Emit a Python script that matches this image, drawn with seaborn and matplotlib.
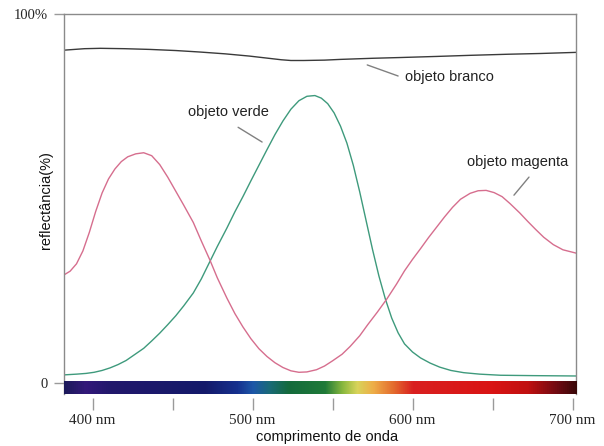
"""Reflectance spectra of white, green and magenta objects."""

import numpy as np
import pandas as pd
import matplotlib
matplotlib.use('Agg')
import matplotlib.pyplot as plt
from matplotlib.colors import LinearSegmentedColormap
import seaborn as sns

# values (wavelength in nm, reflectance in %)
branco_nm = [382.2, 395, 405, 420, 436, 452, 467, 483, 498, 510, 518, 524, 532, 545, 555,
             575, 592, 615, 636, 660, 680, 702.2]
branco_pct = [90.2, 90.6, 90.7, 90.6, 90.4, 90.1, 89.7, 89.2, 88.6, 88.0, 87.6, 87.4, 87.4,
              87.5, 87.7, 88.0, 88.2, 88.5, 88.8, 89.1, 89.3, 89.6]

verde_nm = [382.2, 390, 396, 401, 406, 411, 416, 421, 426, 432, 437, 442, 447, 452, 457, 463,
            468, 473, 478, 484, 489, 494, 499, 504, 509, 514, 519, 524, 529, 534, 539, 543,
            547, 551, 555, 559, 563, 567, 571, 575, 579, 583, 587, 591, 595, 600, 605, 611,
            617, 624, 632, 642, 655, 675, 702.2]
verde_pct = [2.2, 2.4, 2.6, 2.9, 3.4, 4.1, 5.0, 6.1, 7.6, 9.4, 11.4, 13.5, 15.8, 18.2, 20.9,
             24.4, 28.2, 32.6, 37.0, 42.0, 46.4, 50.5, 54.8, 59.0, 63.2, 67.3, 71.0, 74.2,
             76.5, 77.7, 77.9, 77.2, 75.7, 73.2, 69.6, 65.0, 59.0, 51.8, 44.0, 36.2, 29.0,
             22.8, 17.6, 13.6, 10.6, 8.4, 6.8, 5.4, 4.3, 3.4, 2.8, 2.4, 2.1, 2.0, 1.9]

magenta_nm = [382.2, 386, 390, 394, 398, 402, 406, 410, 414, 418, 422, 427, 432, 437, 442, 447,
              452, 457, 463, 468, 473.4, 478, 484, 489, 494, 499, 504, 509, 514, 519, 524, 529,
              534, 540, 545, 550, 556, 561, 567, 572, 578, 584, 590, 595, 600, 605, 610, 615,
              620, 625, 630, 636, 641, 646, 651, 656, 661, 667, 672, 677, 682, 688, 694, 702.2]
magenta_pct = [29.3, 30.3, 32.3, 35.8, 40.8, 46.5, 51.5, 55.3, 58.0, 60.0, 61.3, 62.1, 62.4,
               61.6, 59.2, 55.8, 52.0, 48.2, 43.5, 38.5, 33.3, 28.5, 23.0, 18.8, 15.2, 12.0,
               9.3, 7.2, 5.5, 4.2, 3.3, 2.9, 3.0, 3.6, 4.6, 6.0, 7.8, 9.9, 12.8, 15.8, 19.2,
               22.8, 26.8, 30.4, 33.5, 36.4, 39.4, 42.2, 45.0, 47.6, 49.8, 51.4, 52.1, 52.2,
               51.6, 50.5, 48.6, 46.1, 43.8, 41.6, 39.5, 37.5, 36.1, 35.2]

# visible spectrum strip under the plot
spectrum_nm = [382, 395, 410, 470, 490, 500, 510, 522, 545, 556, 565, 575, 588, 600, 650, 672, 690, 702]
spectrum_col = ['#1c1a5a', '#33197a', '#22186c', '#141a6a', '#16308e', '#1d57a8', '#1a6a78',
                '#146a3c', '#1f7a38', '#8ab83e', '#d8d45a', '#eeae48', '#e36a2e', '#d92020',
                '#d91414', '#c01010', '#700a12', '#3a0808']

xticks_major = [400, 500, 600, 700]
xticks_minor = [450, 550, 650]
xlabels = ['400 nm', '500 nm', '600 nm', '700 nm']
ylabels = ['0', '100%']

labels = [
    # text, text position, leader start, leader end
    ('objeto branco', (595.5, 83.0), (571.7, 86.2), (591.0, 83.2)),
    ('objeto verde', (484.7, 73.4), (491.0, 69.3), (506.0, 65.3)),
    ('objeto magenta', (665.6, 60.0), (663.4, 50.9), (672.8, 55.8)),
]

palette = {'branco': '#3a3a3a', 'verde': '#3e9a7c', 'magenta': '#d66e8e'}

df = pd.concat([
    pd.DataFrame({'nm': branco_nm, 'pct': branco_pct, 'objeto': 'branco'}),
    pd.DataFrame({'nm': verde_nm, 'pct': verde_pct, 'objeto': 'verde'}),
    pd.DataFrame({'nm': magenta_nm, 'pct': magenta_pct, 'objeto': 'magenta'}),
])

sns.set_style('white')
plt.rcParams['font.family'] = ['Liberation Sans', 'DejaVu Sans']

fig = plt.figure(figsize=(6.04, 4.46), dpi=100)
ax = fig.add_axes([0.106, 0.1166, 0.8477, 0.852])

xmin, xmax = 382.2, 702.2
ymin, ymax = -2.98, 100

sns.lineplot(data=df, x='nm', y='pct', hue='objeto', palette=palette,
             estimator=None, sort=True, linewidth=1.0, legend=False, ax=ax)
for line in ax.get_lines():
    line.set_solid_joinstyle('round')

# spectrum strip
cmap = LinearSegmentedColormap.from_list(
    'spectrum', [((w - spectrum_nm[0]) / (spectrum_nm[-1] - spectrum_nm[0]), c)
                 for w, c in zip(spectrum_nm, spectrum_col)])
grad = np.linspace(0, 1, 512)[None, :]
ax.imshow(grad, cmap=cmap, aspect='auto', extent=[xmin, xmax, ymin, 0.3],
          interpolation='bilinear', zorder=3)

ax.set_xlim(xmin, xmax)
ax.set_ylim(ymin, ymax)

# frame
for side in ['top', 'left', 'right']:
    ax.spines[side].set_color('#8a8a8a')
    ax.spines[side].set_linewidth(1.0)
ax.spines['bottom'].set_visible(False)
ax.spines['bottom'].set_position(('outward', 3))

ax.set_xticks(xticks_major)
ax.set_xticks(xticks_minor, minor=True)
ax.set_xticklabels(xlabels, fontfamily='Liberation Serif', fontsize=11)
ax.tick_params(axis='x', which='both', bottom=True, direction='out', length=8.6,
               width=1.0, color='#9a9a9a', pad=3)
ax.set_yticks([0, 100])
ax.set_yticklabels(ylabels, fontfamily='Liberation Serif', fontsize=10.5)
ax.tick_params(axis='y', left=True, direction='out', length=7.5, width=1.0,
               color='#9a9a9a', pad=4)

ax.set_xlabel('comprimento de onda', fontsize=10.5, color='#111111')
ax.xaxis.set_label_coords(0.514, -0.095)
ax.set_ylabel('reflectância(%)', fontsize=10.5, color='#111111')
ax.yaxis.set_label_coords(-0.022, 0.51)

for text, pos, a, b in labels:
    ax.text(pos[0], pos[1], text, fontsize=10.5, color='#222222',
            ha='left' if text == 'objeto branco' else 'center', va='center')
    ax.annotate('', xy=a, xytext=b,
                arrowprops=dict(arrowstyle='-', color='#808080', lw=1.0,
                                shrinkA=0, shrinkB=0))

fig.savefig('out.png', dpi=100)
plt.close(fig)
